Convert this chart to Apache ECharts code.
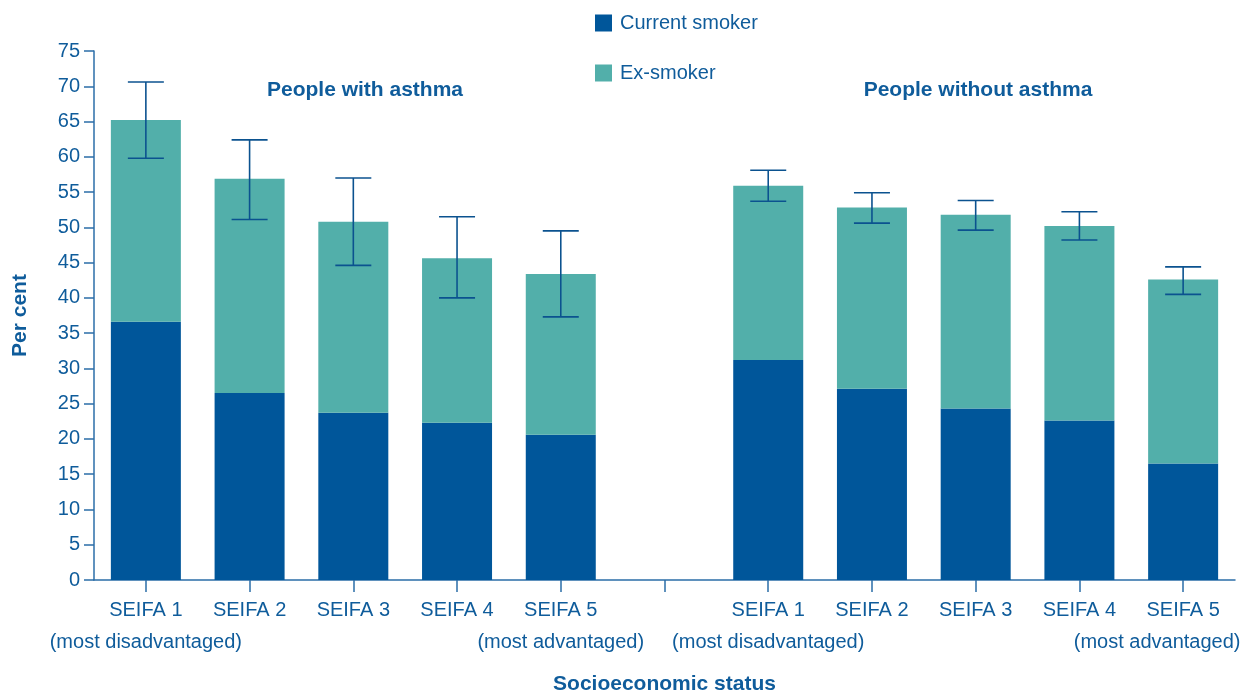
<!DOCTYPE html>
<html>
<head>
<meta charset="utf-8">
<script src="https://cdn.jsdelivr.net/npm/echarts@6/dist/echarts.min.js"></script>
<style>html,body{margin:0;padding:0;background:#fff}#c{width:1253px;height:697px}</style>
</head>
<body>
<div id="c"></div>
<script>
// Data
var categories = ['SEIFA 1','SEIFA 2','SEIFA 3','SEIFA 4','SEIFA 5','','SEIFA 1','SEIFA 2','SEIFA 3','SEIFA 4','SEIFA 5'];
var subLabels = ['(most disadvantaged)','','','','(most advantaged)','','(most disadvantaged)','','','','(most advantaged)'];
var currentSmoker = [36.6, 26.5, 23.7, 22.3, 20.6, null, 31.2, 27.1, 24.3, 22.6, 16.5];
var exSmoker      = [28.6, 30.4, 27.1, 23.3, 22.8, null, 24.7, 25.7, 27.5, 27.6, 26.1];
var errLow        = [59.8, 51.1, 44.6, 40.0, 37.3, null, 53.7, 50.6, 49.6, 48.2, 40.5];
var errHigh       = [70.6, 62.4, 57.0, 51.5, 49.5, null, 58.1, 54.9, 53.8, 52.2, 44.4];
var groupTitles = ['People with asthma', 'People without asthma'];
var yTicks = {min: 0, max: 75, interval: 5};

var TEXT = '#0F5C9B';
var AXIS = '#2B6EA8';
var C1 = '#00569A';
var C2 = '#52AFAA';
var FONT = 'Liberation Sans, Arial, sans-serif';

var errData = [];
for (var i = 0; i < categories.length; i++) {
  if (errLow[i] != null) errData.push([i, errLow[i], errHigh[i]]);
}
function nz(a){ return a.map(function(v){ return v == null ? '-' : v; }); }

var chart = echarts.init(document.getElementById('c'), null, {renderer: 'canvas'});
chart.setOption({
  animation: false,
  textStyle: {fontFamily: FONT},
  title: [
    {text: groupTitles[0], left: 360, top: 75, textAlign: 'center',
     textStyle: {color: TEXT, fontSize: 21, fontWeight: 'bold', fontFamily: FONT}},
    {text: groupTitles[1], left: 973, top: 75, textAlign: 'center',
     textStyle: {color: TEXT, fontSize: 21, fontWeight: 'bold', fontFamily: FONT}}
  ],
  legend: {
    orient: 'vertical', left: 590, top: 8,
    itemWidth: 17, itemHeight: 17, itemGap: 30,
    icon: 'rect', selectedMode: false,
    textStyle: {color: TEXT, fontSize: 20, fontFamily: FONT, padding: [0, 0, 0, 3]},
    data: ['Current smoker', 'Ex-smoker']
  },
  grid: {left: 94, right: 18, top: 51, bottom: 117, containLabel: false, outerBoundsMode: 'none'},
  xAxis: {
    type: 'category',
    data: categories,
    name: 'Socioeconomic status',
    nameLocation: 'middle',
    nameGap: 94,
    nameTextStyle: {color: TEXT, fontSize: 21, fontWeight: 'bold', fontFamily: FONT},
    axisLine: {show: true, lineStyle: {color: AXIS, width: 1.5}},
    axisTick: {show: true, alignWithLabel: true, interval: 0, inside: false, length: 12,
               lineStyle: {color: AXIS, width: 1.5}},
    axisLabel: {
      interval: 0, color: TEXT, fontSize: 20, fontFamily: FONT, margin: 14, lineHeight: 32,
      formatter: function (v, idx) {
        var s = subLabels[idx];
        if (!s) return v;
        if (idx === categories.length - 1) return v + '\n{r|' + s + '}';
        return v + '\n' + s;
      },
      rich: {r: {color: TEXT, fontSize: 20, fontFamily: FONT, lineHeight: 32, padding: [0, 52, 0, 0]}}
    }
  },
  yAxis: {
    type: 'value',
    min: yTicks.min, max: yTicks.max, interval: yTicks.interval,
    name: 'Per cent',
    nameLocation: 'middle',
    nameGap: 63,
    nameTextStyle: {color: TEXT, fontSize: 21, fontWeight: 'bold', fontFamily: FONT},
    axisLine: {show: true, lineStyle: {color: AXIS, width: 1.5}},
    axisTick: {show: true, length: 10, lineStyle: {color: AXIS, width: 1.5}},
    axisLabel: {color: TEXT, fontSize: 20, fontFamily: FONT, margin: 14},
    splitLine: {show: false}
  },
  series: [
    {name: 'Current smoker', type: 'bar', stack: 's', barWidth: 70,
     itemStyle: {color: C1}, data: nz(currentSmoker)},
    {name: 'Ex-smoker', type: 'bar', stack: 's', barWidth: 70,
     itemStyle: {color: C2}, data: nz(exSmoker)},
    {name: 'err', type: 'custom', z: 5,
     data: errData,
     encode: {x: 0, y: [1, 2]},
     renderItem: function (params, api) {
       var x = api.value(0);
       var lo = api.coord([x, api.value(1)]);
       var hi = api.coord([x, api.value(2)]);
       var hw = 18;
       var st = {stroke: '#0B528F', lineWidth: 1.6};
       return {type: 'group', children: [
         {type: 'line', shape: {x1: lo[0], y1: lo[1], x2: hi[0], y2: hi[1]}, style: st},
         {type: 'line', shape: {x1: lo[0]-hw, y1: lo[1], x2: lo[0]+hw, y2: lo[1]}, style: st},
         {type: 'line', shape: {x1: hi[0]-hw, y1: hi[1], x2: hi[0]+hw, y2: hi[1]}, style: st}
       ]};
     }}
  ]
});
</script>
</body>
</html>
